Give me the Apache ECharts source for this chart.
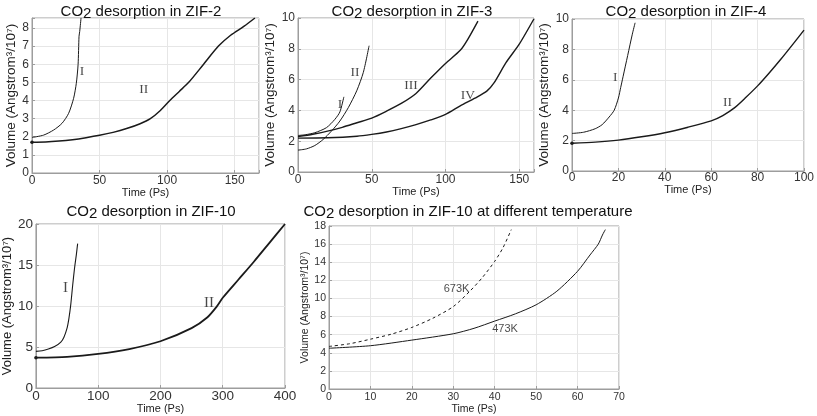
<!DOCTYPE html>
<html><head><meta charset="utf-8">
<script src="https://cdn.jsdelivr.net/npm/echarts@6/dist/echarts.min.js"></script>
<style>html,body{margin:0;padding:0;background:#fff}#c{width:817px;height:416px}</style>
</head><body><div id="c"></div>
<script>
// ---------- DATA ----------
// ZIF-2
const zif2_I_x  = [0, 8.6, 16, 22.2, 27.1, 30.8, 32.8, 34.1, 34.8, 35.3, 36.3];
const zif2_I_y  = [1.96, 2.09, 2.37, 2.74, 3.29, 4.12, 4.95, 5.97, 7.54, 7.8, 8.56];
const zif2_II_x = [0, 10, 20, 30, 40, 50, 60, 70, 80, 87.6, 95, 102, 109, 116, 127, 138, 147, 157, 165];
const zif2_II_y = [1.70, 1.71, 1.76, 1.84, 1.95, 2.08, 2.24, 2.45, 2.72, 3.0, 3.45, 4.0, 4.5, 5.0, 6.0, 7.0, 7.6, 8.1, 8.55];
// ZIF-3
const zif3_I_x   = [0, 5, 11.4, 19.3, 25, 28.4, 31.1];
const zif3_I_y   = [2.37, 2.42, 2.55, 2.88, 3.42, 3.9, 4.88];
const zif3_II_x  = [0, 5.7, 11.4, 17, 22.7, 28.4, 34.1, 39.8, 44.3, 48.2];
const zif3_II_y  = [1.42, 1.5, 1.72, 2.11, 2.66, 3.31, 4.18, 5.27, 6.47, 8.2];
const zif3_III_x = [0, 10, 20, 30, 40, 50, 60, 70, 80, 90, 100, 110, 115, 122];
const zif3_III_y = [2.3, 2.45, 2.65, 2.9, 3.2, 3.5, 3.95, 4.45, 5.1, 6.1, 7.05, 7.9, 8.6, 9.8];
const zif3_IV_x  = [0, 20, 40, 50, 60, 70, 80, 90, 100, 110, 120, 128, 133, 141, 150, 160];
const zif3_IV_y  = [2.2, 2.22, 2.32, 2.44, 2.6, 2.82, 3.08, 3.38, 3.74, 4.3, 4.8, 5.25, 5.8, 7.1, 8.3, 9.95];
// ZIF-4
const zif4_I_x  = [0, 5, 10, 13, 16, 18.2, 20, 21, 22, 24, 26, 27.2];
const zif4_I_y  = [2.47, 2.55, 2.78, 3.05, 3.55, 4.0, 4.8, 5.5, 6.2, 7.6, 9.0, 9.75];
const zif4_II_x = [0, 10, 20, 30, 40, 50, 60, 65, 70, 75, 80, 85, 90, 95, 100];
const zif4_II_y = [1.83, 1.9, 2.03, 2.25, 2.52, 2.88, 3.3, 3.65, 4.15, 4.85, 5.6, 6.45, 7.35, 8.3, 9.27];
// ZIF-10
const zif10_I_x  = [0, 10, 20, 30, 40, 45, 50, 53, 56, 59, 62, 65, 67];
const zif10_I_y  = [4.47, 4.55, 4.75, 5.05, 5.6, 6.2, 7.3, 8.5, 10.2, 12.5, 14.6, 16.3, 17.6];
const zif10_II_x = [0, 50, 100, 150, 200, 250, 275, 290, 300, 325, 350, 375, 400];
const zif10_II_y = [3.7, 3.8, 4.15, 4.75, 5.7, 7.3, 8.6, 9.9, 11.0, 13.2, 15.4, 17.7, 20];
// ZIF-10 at different temperature
const t473_x = [0, 10, 20, 30, 35, 40, 45, 50, 55, 60, 63, 65, 66, 66.7];
const t473_y = [4.5, 4.78, 5.4, 6.1, 6.7, 7.5, 8.3, 9.3, 10.8, 13.0, 14.8, 16.0, 17.0, 17.6];
const t673_x = [0, 5, 10, 15, 20, 25, 30, 34, 37, 40, 42, 44];
const t673_y = [4.7, 5.0, 5.5, 6.05, 6.8, 7.8, 9.1, 10.8, 12.3, 14.1, 15.6, 17.6];

// curve annotations [panel, text, x, y]
const annotations = [
  [0, 'I', 37, 5.6], [0, 'II', 82.7, 4.6],
  [1, 'I', 28.4, 4.4], [1, 'II', 38.6, 6.47], [1, 'III', 76.6, 5.6], [1, 'IV', 115.2, 4.94],
  [2, 'I', 18.6, 6.14], [2, 'II', 67, 4.48],
  [3, 'I', 47.7, 12.2], [3, 'II', 278, 10.3],
  [4, '673K', 30.8, 11.0], [4, '473K', 42.5, 6.6]
];

// panels: title suffix, x range, y range
const panelTitles = ['ZIF-2', 'ZIF-3', 'ZIF-4', 'ZIF-10', 'ZIF-10 at different temperature'];
const xMax = [168, 160, 100, 400, 70];
const xStep = [50, 50, 20, 100, 10];
const yMax = [8.55, 10, 10, 20, 18];
const yStep = [1, 2, 2, 5, 2];
const xName = 'Time (Ps)';
const yName = 'Volume (Angstrom\u00B3/10\u2077)';

// ---------- LAYOUT / STYLE ----------
const SANS = '"Liberation Sans", Arial, Helvetica, sans-serif';
const SERIF = '"Liberation Serif", "Times New Roman", serif';
const grids = [
  {left: 32, top: 18, width: 227, height: 155},
  {left: 298, top: 18, width: 236, height: 154},
  {left: 572, top: 19, width: 235, height: 152},
  {left: 33, top: 224, width: 252, height: 164},
  {left: 329, top: 226, width: 290, height: 163}
];
const titlePos = [[141, 2], [412, 2], [686, 2], [151, 202], [468, 202]];
const tickFont = [12, 12, 12, 13.5, 10.5];
const yNameFont = [13.5, 13.5, 13.5, 13, 10.5];
const yNameGap = [9, 13, 14, 15, 15.5];
const xNameGap = [12.5, 12, 12.5, 6.5, 12.5];
const xLabelMargin = [2, 1.5, 1, 1, 2.5];
const AX = '#9d9d9d';

function pairs(xs, ys) { return xs.map((x, i) => [x, ys[i]]); }
function stepFmt(step) {
  return v => { const r = v / step; return Math.abs(r - Math.round(r)) < 1e-6 ? String(Math.round(v * 100) / 100) : ''; };
}

const option = {
  animation: false,
  backgroundColor: '#fff',
  title: panelTitles.map((t, i) => ({
    text: '{a|CO}{b|2}{a| desorption in ' + t + '}',
    left: titlePos[i][0], top: titlePos[i][1], textAlign: 'center', padding: 0,
    textStyle: {
      fontFamily: SANS, fontSize: 15, fontWeight: 'normal', color: '#111',
      rich: {
        a: {fontFamily: SANS, fontSize: 15, color: '#111'},
        b: {fontFamily: SANS, fontSize: 15, color: '#111', padding: [4, 0, 0, 0]}
      }
    }
  })),
  grid: grids.map(g => Object.assign({show: true, borderColor: AX, borderWidth: 1, backgroundColor: '#fff'}, g)),
  xAxis: grids.map((g, i) => ({
    gridIndex: i, type: 'value', min: 0, max: xMax[i], interval: xStep[i],
    name: xName, nameLocation: 'middle', nameGap: xNameGap[i],
    nameTextStyle: {fontFamily: SANS, fontSize: i === 4 ? 10.5 : 11, color: '#222'},
    axisLine: {show: true, onZero: false, lineStyle: {color: AX, width: 1}},
    axisTick: {show: true, inside: true, length: 3, lineStyle: {color: AX}},
    axisLabel: {fontFamily: SANS, fontSize: tickFont[i], color: '#333', margin: xLabelMargin[i], formatter: stepFmt(xStep[i]), hideOverlap: false},
    splitLine: {show: true, lineStyle: {color: '#e6e6e6', width: 1}}
  })),
  yAxis: grids.map((g, i) => ({
    gridIndex: i, type: 'value', min: 0, max: yMax[i], interval: yStep[i],
    name: yName, nameLocation: 'middle', nameGap: yNameGap[i], nameRotate: 90,
    nameTextStyle: {fontFamily: SANS, fontSize: yNameFont[i], color: '#222'},
    axisLine: {show: true, onZero: false, lineStyle: {color: AX, width: 1}},
    axisTick: {show: true, inside: true, length: 3, lineStyle: {color: AX}},
    axisLabel: {fontFamily: SANS, fontSize: tickFont[i], color: '#333', margin: 3, formatter: stepFmt(yStep[i])},
    splitLine: {show: true, lineStyle: {color: '#e6e6e6', width: 1}}
  })),
  series: []
};

function addLine(panel, xs, ys, width, dashed, startDot) {
  const data = pairs(xs, ys).map((p, i) => (i === 0 && startDot)
    ? {value: p, symbol: 'circle', symbolSize: 3.5}
    : {value: p, symbol: 'none'});
  option.series.push({
    type: 'line', xAxisIndex: panel, yAxisIndex: panel,
    data: data, showSymbol: true, symbol: 'none',
    smooth: 0.25, silent: true,
    itemStyle: {color: '#1a1a1a'},
    lineStyle: {color: '#1a1a1a', width: width, type: dashed ? [3, 3] : 'solid'}
  });
}
addLine(0, zif2_I_x, zif2_I_y, 1);
addLine(0, zif2_II_x, zif2_II_y, 1.5, false, true);
addLine(1, zif3_I_x, zif3_I_y, 1);
addLine(1, zif3_II_x, zif3_II_y, 1);
addLine(1, zif3_III_x, zif3_III_y, 1.4);
addLine(1, zif3_IV_x, zif3_IV_y, 1.4);
addLine(2, zif4_I_x, zif4_I_y, 1);
addLine(2, zif4_II_x, zif4_II_y, 1.4, false, true);
addLine(3, zif10_I_x, zif10_I_y, 1.1);
addLine(3, zif10_II_x, zif10_II_y, 1.8, false, true);
addLine(4, t473_x, t473_y, 1);
addLine(4, t673_x, t673_y, 1, true);

for (let p = 0; p < 5; p++) {
  const items = annotations.filter(a => a[0] === p);
  option.series.push({
    type: 'scatter', xAxisIndex: p, yAxisIndex: p, symbolSize: 1, silent: true,
    itemStyle: {color: 'rgba(0,0,0,0)'},
    data: items.map(a => ({name: a[1], value: [a[2], a[3]]})),
    label: {
      show: true, position: 'inside', formatter: '{b}',
      fontFamily: p === 4 ? SANS : SERIF, fontSize: p === 4 ? 11 : (p === 3 ? 15 : 13.5), color: '#1a1a1a'
    }
  });
}

const chart = echarts.init(document.getElementById('c'), null, {renderer: 'canvas'});
chart.setOption(option);
</script></body></html>
